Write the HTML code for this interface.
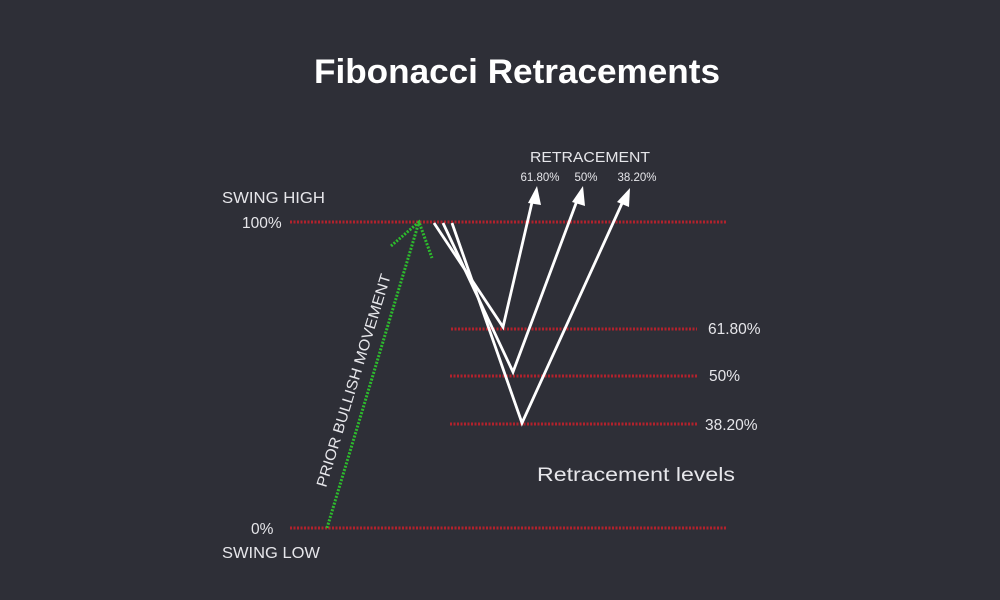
<!DOCTYPE html>
<html><head><meta charset="utf-8"><style>
html,body{margin:0;padding:0;background:#2e2f37;}
svg{display:block}
text{font-family:"Liberation Sans","DejaVu Sans",sans-serif;fill:#e6e6ea;}
</style></head><body>
<svg width="1000" height="600" viewBox="0 0 1000 600" xmlns="http://www.w3.org/2000/svg">
<rect width="1000" height="600" fill="#2e2f37"/>
<text x="517" y="83" text-anchor="middle" font-size="34" font-weight="bold" style="fill:#fff" textLength="406" lengthAdjust="spacingAndGlyphs">Fibonacci Retracements</text>

<g stroke="#b3222c" stroke-width="3" stroke-dasharray="2 1.5">
<line x1="290" y1="222" x2="726" y2="222"/>
<line x1="451" y1="329" x2="697" y2="329"/>
<line x1="450" y1="376" x2="697" y2="376"/>
<line x1="450" y1="424" x2="697" y2="424"/>
<line x1="290" y1="528" x2="726" y2="528"/>
</g>

<g stroke="#2dbb2d" stroke-width="3" stroke-dasharray="2 1.5" fill="none">
<line x1="327" y1="528" x2="419" y2="222"/>
<polyline points="391,246 419,222 432,258"/>
</g>

<g stroke="#ffffff" stroke-width="2.8" fill="none" stroke-linejoin="miter">
<polyline points="434,223 503,327 533,198"/>
<polyline points="443,223 513,372 578,198"/>
<polyline points="452,223 522,423 624,199"/>
</g>
<g fill="#ffffff">
<polygon points="537,186 528,203 541,205"/>
<polygon points="583,186 572,202 585,206"/>
<polygon points="630,188 617,202 629,207"/>
</g>

<text x="590" y="162" text-anchor="middle" font-size="15" textLength="120" lengthAdjust="spacingAndGlyphs">RETRACEMENT</text>
<text x="540" y="181" text-anchor="middle" font-size="11.5">61.80%</text>
<text x="586" y="181" text-anchor="middle" font-size="11.5">50%</text>
<text x="637" y="181" text-anchor="middle" font-size="11.5">38.20%</text>

<text x="222" y="203" font-size="15.5" textLength="103" lengthAdjust="spacingAndGlyphs">SWING HIGH</text>
<text x="242" y="228" font-size="15.5">100%</text>
<text x="251" y="534" font-size="15.5">0%</text>
<text x="222" y="558" font-size="15.5" textLength="98" lengthAdjust="spacingAndGlyphs">SWING LOW</text>

<text x="708" y="334" font-size="15.5">61.80%</text>
<text x="709" y="381" font-size="15.5">50%</text>
<text x="705" y="430" font-size="15.5">38.20%</text>
<text x="537" y="481" font-size="19" textLength="198" lengthAdjust="spacingAndGlyphs">Retracement levels</text>

<text transform="translate(326,488) rotate(-73)" font-size="15" textLength="222" lengthAdjust="spacingAndGlyphs">PRIOR BULLISH MOVEMENT</text>
</svg>
</body></html>
